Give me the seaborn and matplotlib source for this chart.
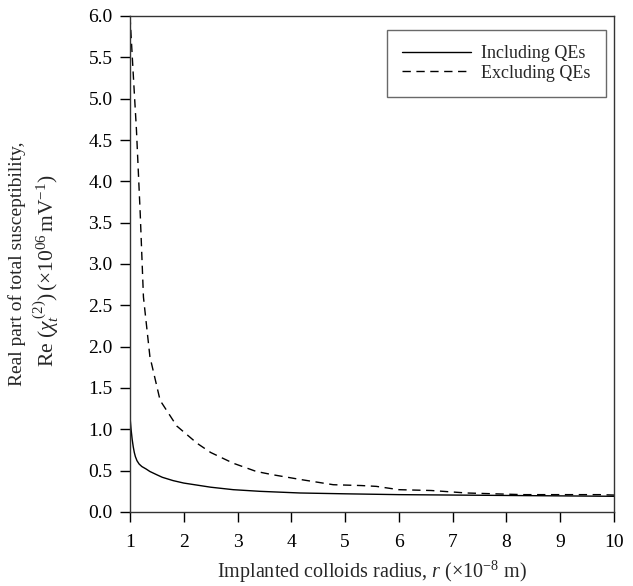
import matplotlib
matplotlib.use("Agg")
import matplotlib.pyplot as plt
import seaborn as sns
import numpy as np

# Data
r_incl = [1.0, 1.02, 1.04, 1.06, 1.08, 1.1, 1.13, 1.17, 1.22, 1.3, 1.37, 1.5, 1.6, 1.8, 2.0, 2.5, 2.92, 3.42, 4.16, 5.0, 6.0, 7.0, 8.0, 9.0, 10.0]
chi_incl = [1.15, 1.0, 0.88, 0.79, 0.72, 0.67, 0.62, 0.58, 0.55, 0.52, 0.49, 0.45, 0.42, 0.38, 0.35, 0.3, 0.27, 0.25, 0.23, 0.22, 0.21, 0.205, 0.2, 0.195, 0.19]

r_excl = [1.0, 1.06, 1.12, 1.19, 1.25, 1.37, 1.56, 1.87, 2.25, 2.5, 2.92, 3.35, 3.66, 4.2, 4.78, 5.3, 5.58, 6.0, 6.6, 7.26, 8.3, 9.0, 9.73, 10.0]
chi_excl = [6.0, 5.3, 4.62, 3.61, 2.6, 1.88, 1.35, 1.04, 0.83, 0.72, 0.59, 0.49, 0.45, 0.39, 0.33, 0.32, 0.31, 0.27, 0.26, 0.23, 0.21, 0.21, 0.21, 0.205]

x_ticks = [1, 2, 3, 4, 5, 6, 7, 8, 9, 10]
y_ticks = [0.0, 0.5, 1.0, 1.5, 2.0, 2.5, 3.0, 3.5, 4.0, 4.5, 5.0, 5.5, 6.0]

sns.set_theme(style="ticks")
plt.rcParams["font.family"] = ["Liberation Serif", "DejaVu Serif"]
plt.rcParams["mathtext.fontset"] = "custom"
plt.rcParams["mathtext.rm"] = "Liberation Serif"
plt.rcParams["mathtext.it"] = "Liberation Serif:italic"
plt.rcParams["mathtext.bf"] = "Liberation Serif:bold"

W, H = 633, 586
fig = plt.figure(figsize=(W / 100, H / 100), dpi=100)
ax = fig.add_axes([130 / W, 1 - 512 / H, (614 - 130) / W, (512 - 16) / H])

sns.lineplot(x=r_incl, y=chi_incl, ax=ax, color="black", lw=1.0, label="Including QEs")
sns.lineplot(x=r_excl, y=chi_excl, ax=ax, color="black", lw=1.0, label="Excluding QEs",
             linestyle=(0, (6, 4)))

ax.set_xlim(1, 10)
ax.set_ylim(0, 6)
ax.set_xticks(x_ticks)
ax.set_xticklabels([str(t) for t in x_ticks])
ax.set_yticks(y_ticks)
ax.set_yticklabels([f"{t:.1f}" for t in y_ticks])
ax.tick_params(axis="both", direction="out", length=7.5, width=1.0, labelsize=14, colors="black")
ax.tick_params(axis="x", pad=8)
ax.tick_params(axis="y", pad=5)
for s in ax.spines.values():
    s.set_visible(True)
    s.set_color("#333333")
    s.set_linewidth(1.0)

ax.set_xlabel(r"Implanted colloids radius, $\it{r}$ (×10$^{-8}$ m)", fontsize=14.5, labelpad=6)

fig.text(17 / W, 1 - 264 / H, "Real part of total susceptibility,", rotation=90,
         ha="center", va="center", fontsize=14)
fig.text(46 / W, 1 - 367 / H,
         r"Re ($\chi_{t}^{\,(2)}$)$\,$(×10$^{06}$$\,$mV$^{-1}$)", rotation=90,
         ha="center", va="bottom", fontsize=15.5)

leg = ax.legend(loc="upper left", bbox_to_anchor=((387 - 130) / 484, (512 - 30) / 496),
                fontsize=13, frameon=True, fancybox=False, edgecolor="#444444",
                handlelength=3.8, borderpad=0.85, labelspacing=0.12, handletextpad=0.55,
                borderaxespad=0)
leg.get_frame().set_linewidth(1.0)

fig.savefig("out.png", dpi=100)
